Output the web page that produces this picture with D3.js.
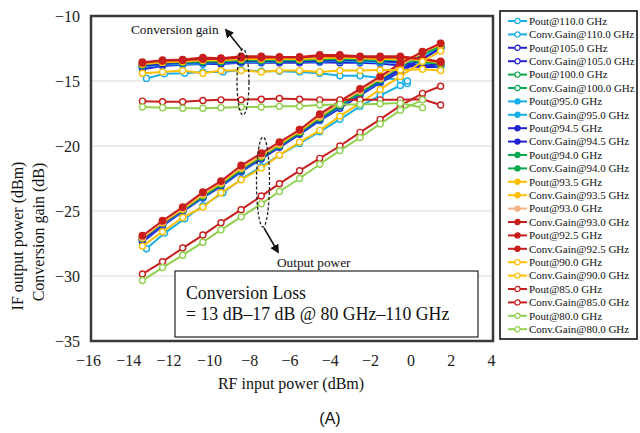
<!DOCTYPE html>
<html><head><meta charset="utf-8">
<script src="https://cdn.jsdelivr.net/npm/d3@7"></script>
<style>body{margin:0;background:#fff}svg{display:block}</style>
</head><body>
<svg id="c" width="640" height="433"></svg>
<script>
// ---- data ----
const pin    = [-13.3,-12.3,-11.3,-10.3,-9.4,-8.4,-7.4,-6.5,-5.5,-4.5,-3.5,-2.5,-1.5,-0.5,0.6,1.5];
const pin110 = [-13.1,-12.2,-11.2,-10.3,-9.3,-8.4,-7.4,-6.5,-5.5,-4.5,-3.5,-2.5,-1.5,-0.5,-0.15];
const pin80  = [-13.3,-12.3,-11.3,-10.3,-9.4,-8.4,-7.4,-6.5,-5.5,-4.5,-3.5,-2.5,-1.5,-0.5,0.6];

const pout110 = [-27.9,-26.7,-25.6,-24.6,-23.6,-22.55,-21.6,-20.7,-19.8,-18.9,-17.95,-16.95,-16.1,-15.35,-15.2];
const gain110 = [-14.8,-14.45,-14.4,-14.3,-14.3,-14.15,-14.25,-14.25,-14.3,-14.4,-14.6,-14.6,-14.75,-14.9,-15.0];
const pout105 = [-27.4,-26.15,-25.05,-24.0,-23.1,-22.0,-21.0,-20.1,-19.1,-18.05,-17.1,-16.1,-15.15,-14.3,-13.35,-12.4];
const gain105 = [-14.1,-13.85,-13.75,-13.7,-13.7,-13.6,-13.6,-13.6,-13.6,-13.55,-13.6,-13.6,-13.65,-13.8,-13.95,-13.9];
const pout100 = [-27.2,-26.0,-24.95,-23.9,-23.0,-21.9,-20.9,-20.0,-19.0,-17.95,-16.95,-15.95,-15.0,-14.0,-13.0,-12.25];
const gain100 = [-13.9,-13.7,-13.65,-13.6,-13.6,-13.5,-13.5,-13.5,-13.5,-13.45,-13.45,-13.45,-13.5,-13.5,-13.6,-13.75];
const pout95  = [-27.2,-26.05,-25.0,-23.95,-23.0,-21.95,-20.9,-20.0,-19.0,-18.0,-16.95,-16.0,-15.05,-14.1,-13.1,-12.3];
const gain95  = [-13.9,-13.75,-13.7,-13.65,-13.6,-13.55,-13.5,-13.5,-13.5,-13.5,-13.45,-13.5,-13.55,-13.6,-13.7,-13.8];
const pout94_5 = [-27.2,-26.0,-24.95,-23.9,-23.0,-21.9,-20.9,-20.0,-19.0,-17.95,-16.9,-15.95,-15.0,-14.1,-13.3,-12.5];
const gain94_5 = [-13.85,-13.7,-13.6,-13.55,-13.6,-13.5,-13.45,-13.5,-13.5,-13.45,-13.4,-13.4,-13.45,-13.6,-13.85,-13.7];
const pout94  = [-27.1,-25.9,-24.9,-23.85,-22.95,-21.8,-20.85,-19.95,-18.95,-17.85,-16.85,-15.9,-14.9,-13.85,-12.95,-12.35];
const gain94  = [-13.75,-13.55,-13.55,-13.5,-13.5,-13.4,-13.4,-13.4,-13.4,-13.35,-13.3,-13.35,-13.4,-13.35,-13.5,-13.7];
const pout93_5 = [-27.05,-25.9,-24.85,-23.75,-22.85,-21.7,-20.75,-19.85,-18.85,-17.75,-16.7,-15.75,-14.8,-13.8,-12.8,-12.2];
const gain93_5 = [-13.7,-13.55,-13.5,-13.4,-13.4,-13.3,-13.3,-13.3,-13.3,-13.25,-13.2,-13.25,-13.3,-13.3,-13.4,-13.6];
const pout93  = [-27.0,-25.8,-24.75,-23.65,-22.75,-21.6,-20.65,-19.75,-18.75,-17.65,-16.65,-15.7,-14.75,-13.75,-12.8,-12.1];
const gain93  = [-13.6,-13.45,-13.4,-13.3,-13.3,-13.2,-13.2,-13.2,-13.2,-13.1,-13.1,-13.15,-13.2,-13.2,-13.3,-13.5];
const pout92_5 = [-26.9,-25.75,-24.7,-23.55,-22.7,-21.5,-20.55,-19.7,-18.75,-17.55,-16.55,-15.6,-14.65,-13.65,-12.75,-12.1];
const gain92_5 = [-13.55,-13.4,-13.35,-13.2,-13.25,-13.1,-13.1,-13.15,-13.15,-13.0,-13.0,-13.1,-13.1,-13.1,-13.3,-13.55];
const pout90  = [-27.7,-26.6,-25.5,-24.7,-23.6,-22.6,-21.7,-20.7,-19.7,-18.8,-17.7,-16.7,-15.65,-14.65,-13.5,-12.7];
const gain90  = [-14.4,-14.3,-14.2,-14.4,-14.2,-14.2,-14.3,-14.2,-14.2,-14.3,-14.2,-14.2,-14.15,-14.15,-14.1,-14.2];
const pout85  = [-29.85,-28.9,-27.85,-26.85,-25.9,-24.9,-23.85,-22.9,-21.9,-20.95,-20.0,-18.95,-17.95,-16.9,-15.95,-15.4];
const gain85  = [-16.55,-16.6,-16.6,-16.5,-16.45,-16.45,-16.4,-16.35,-16.4,-16.45,-16.45,-16.45,-16.45,-16.45,-16.4,-16.85];
const pout80  = [-30.35,-29.35,-28.4,-27.4,-26.45,-25.45,-24.45,-23.5,-22.5,-21.4,-20.35,-19.35,-18.3,-17.25,-16.45];
const gain80  = [-17.0,-17.05,-17.1,-17.1,-17.05,-17.0,-17.0,-16.95,-16.95,-16.85,-16.8,-16.8,-16.75,-16.7,-17.05];

const xTicks = [-16,-14,-12,-10,-8,-6,-4,-2,0,2,4];
const yTicks = [-35,-30,-25,-20,-15,-10];

// series table (legend order)
const C = {cyan:"#19aee6", blue:"#2323d2", green:"#0aa84f", yel:"#ffbf00", peach:"#f4b183", red:"#c81e1e", lgreen:"#92d050"};
const series = [
  {name:"Pout@110.0 GHz",      x:pin110, y:pout110,  c:C.cyan,  f:false},
  {name:"Conv.Gain@110.0 GHz", x:pin110, y:gain110,  c:C.cyan,  f:false},
  {name:"Pout@105.0 GHz",      x:pin,    y:pout105,  c:C.blue,  f:false},
  {name:"Conv.Gain@105.0 GHz", x:pin,    y:gain105,  c:C.blue,  f:false},
  {name:"Pout@100.0 GHz",      x:pin,    y:pout100,  c:C.green, f:false},
  {name:"Conv.Gain@100.0 GHz", x:pin,    y:gain100,  c:C.green, f:false},
  {name:"Pout@95.0 GHz",       x:pin,    y:pout95,   c:C.cyan,  f:true},
  {name:"Conv.Gain@95.0 GHz",  x:pin,    y:gain95,   c:C.cyan,  f:true},
  {name:"Pout@94.5 GHz",       x:pin,    y:pout94_5, c:C.blue,  f:true},
  {name:"Conv.Gain@94.5 GHz",  x:pin,    y:gain94_5, c:C.blue,  f:true},
  {name:"Pout@94.0 GHz",       x:pin,    y:pout94,   c:C.green, f:true},
  {name:"Conv.Gain@94.0 GHz",  x:pin,    y:gain94,   c:C.green, f:true},
  {name:"Pout@93.5 GHz",       x:pin,    y:pout93_5, c:C.yel,   f:true},
  {name:"Conv.Gain@93.5 GHz",  x:pin,    y:gain93_5, c:C.yel,   f:true},
  {name:"Pout@93.0 GHz",       x:pin,    y:pout93,   c:C.peach, f:true},
  {name:"Conv.Gain@93.0 GHz",  x:pin,    y:gain93,   c:C.red,   f:true},
  {name:"Pout@92.5 GHz",       x:pin,    y:pout92_5, c:C.red,   f:true},
  {name:"Conv.Gain@92.5 GHz",  x:pin,    y:gain92_5, c:C.red,   f:true},
  {name:"Pout@90.0 GHz",       x:pin,    y:pout90,   c:C.yel,   f:false},
  {name:"Conv.Gain@90.0 GHz",  x:pin,    y:gain90,   c:C.yel,   f:false},
  {name:"Pout@85.0 GHz",       x:pin,    y:pout85,   c:C.red,   f:false},
  {name:"Conv.Gain@85.0 GHz",  x:pin,    y:gain85,   c:C.red,   f:false},
  {name:"Pout@80.0 GHz",       x:pin80,  y:pout80,   c:C.lgreen,f:false},
  {name:"Conv.Gain@80.0 GHz",  x:pin80,  y:gain80,   c:C.lgreen,f:false}
];

// ---- drawing ----
const svg = d3.select("#c");
const serif = "'Liberation Serif','Times New Roman',serif";
const x = d3.scaleLinear().domain([-16,4]).range([88,491]);
const y = d3.scaleLinear().domain([-35,-10]).range([341,16]);
const L = 91, R = 493, T = 16, B = 341;

// gridlines
svg.append("g").selectAll("line").data(yTicks.filter(v=>v>-35 && v<-10)).join("line")
  .attr("x1",L).attr("x2",R).attr("y1",d=>y(d)).attr("y2",d=>y(d))
  .attr("stroke","#d9d9d9").attr("stroke-width",1);

// axes (labels only)
const xa = svg.append("g").attr("transform",`translate(0,${B})`)
  .call(d3.axisBottom(x).tickValues(xTicks).tickSize(0).tickPadding(14).tickFormat(d=>d<0?"\u2212"+Math.abs(d):d));
const ya = svg.append("g").attr("transform",`translate(${L},0)`)
  .call(d3.axisLeft(y).tickValues(yTicks).tickSize(0).tickPadding(11).tickFormat(d=>"\u2212"+Math.abs(d)));
[xa,ya].forEach(g=>{g.select(".domain").remove();
  g.selectAll("text").attr("font-family",serif).attr("font-size",16).attr("fill","#222");});

// series
const line = d3.line().x(d=>x(d[0])).y(d=>y(d[1]));
const gS = svg.append("g");
series.forEach(s=>{
  const pts = s.x.map((v,i)=>[v,s.y[i]]);
  gS.append("path").datum(pts).attr("d",line).attr("fill","none")
    .attr("stroke",s.c).attr("stroke-width",2);
  gS.append("g").selectAll("circle").data(pts).join("circle")
    .attr("cx",d=>x(d[0])).attr("cy",d=>y(d[1])).attr("r",s.f?3.2:3)
    .attr("fill",s.f?s.c:"#fff").attr("stroke",s.c).attr("stroke-width",1.4);
});

// plot frame
svg.append("rect").attr("x",L).attr("y",T).attr("width",R-L).attr("height",B-T)
  .attr("fill","none").attr("stroke","#3a3a3a").attr("stroke-width",2.5);

// annotations
svg.append("defs").append("marker").attr("id","ah").attr("viewBox","0 0 10 10")
  .attr("refX",8).attr("refY",5).attr("markerWidth",6).attr("markerHeight",6).attr("orient","auto")
  .append("path").attr("d","M0,0L10,5L0,10z").attr("fill","#111");
svg.append("ellipse").attr("cx",243).attr("cy",82).attr("rx",6).attr("ry",33)
  .attr("fill","none").attr("stroke","#222").attr("stroke-width",1.3).attr("stroke-dasharray","3,2");
svg.append("line").attr("x1",242).attr("y1",50).attr("x2",226).attr("y2",30)
  .attr("stroke","#111").attr("stroke-width",1.5).attr("marker-end","url(#ah)");
svg.append("text").attr("x",131).attr("y",34).text("Conversion gain")
  .attr("font-family",serif).attr("font-size",13.3).attr("fill","#111");
svg.append("ellipse").attr("cx",263).attr("cy",182).attr("rx",6.5).attr("ry",45)
  .attr("fill","none").attr("stroke","#222").attr("stroke-width",1.3).attr("stroke-dasharray","3,2");
svg.append("line").attr("x1",264).attr("y1",228).attr("x2",278).attr("y2",252)
  .attr("stroke","#111").attr("stroke-width",1.5).attr("marker-end","url(#ah)");
svg.append("text").attr("x",277).attr("y",267).text("Output power")
  .attr("font-family",serif).attr("font-size",13.3).attr("fill","#111");

// text box
svg.append("rect").attr("x",175).attr("y",271).attr("width",303).attr("height",66)
  .attr("fill","#fff").attr("stroke","#333").attr("stroke-width",1.3);
svg.append("text").attr("x",186).attr("y",299).text("Conversion Loss")
  .attr("font-family",serif).attr("font-size",17.8).attr("fill","#111");
svg.append("text").attr("x",186).attr("y",320).text("= 13 dB\u201317 dB @ 80 GHz\u2013110 GHz")
  .attr("font-family",serif).attr("font-size",17.8).attr("fill","#111");

// axis titles
svg.append("text").attr("x",291).attr("y",389).attr("text-anchor","middle").text("RF input power (dBm)")
  .attr("font-family",serif).attr("font-size",16).attr("fill","#111");
svg.append("text").attr("transform","translate(23,236) rotate(-90)").attr("text-anchor","middle")
  .text("IF output power (dBm)").attr("font-family",serif).attr("font-size",16).attr("fill","#111");
svg.append("text").attr("transform","translate(44,232) rotate(-90)").attr("text-anchor","middle")
  .text("Conversion gain (dB)").attr("font-family",serif).attr("font-size",16).attr("fill","#111");
svg.append("text").attr("x",330).attr("y",424).attr("text-anchor","middle").text("(A)")
  .attr("font-family","'Liberation Sans',Arial,sans-serif").attr("font-size",16).attr("fill","#111");

// legend
const lg = svg.append("g");
lg.append("rect").attr("x",500).attr("y",11).attr("width",137).attr("height",328)
  .attr("fill","#fff").attr("stroke","#111").attr("stroke-width",1.6);
const rows = lg.selectAll("g.r").data(series).join("g").attr("class","r")
  .attr("transform",(d,i)=>`translate(0,${21+i*13.4})`);
rows.append("line").attr("x1",508).attr("x2",527).attr("stroke",d=>d.c).attr("stroke-width",2);
rows.append("circle").attr("cx",517.5).attr("r",2.6).attr("fill",d=>d.f?d.c:"#fff")
  .attr("stroke",d=>d.c).attr("stroke-width",1.2);
rows.append("text").attr("x",529).attr("dy","0.35em").text(d=>d.name)
  .attr("font-family",serif).attr("font-size",11).attr("fill","#111");
</script>
</body></html>
